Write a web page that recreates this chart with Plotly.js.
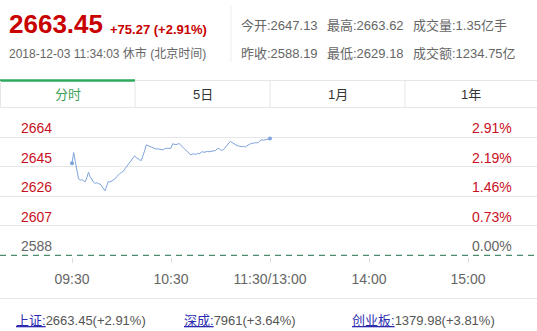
<!DOCTYPE html>
<html>
<head>
<meta charset="utf-8">
<script src="https://cdn.plot.ly/plotly-3.0.1.min.js"></script>
<style>
html,body{margin:0;padding:0;background:#fff;}
#chart{width:537px;height:331px;}
</style>
</head>
<body>
<div id="chart"></div>
<script>
// ---- data ----
var prevClose = 2588.19;
var minutes = [];
for (var i = 0; i <= 120; i++) minutes.push(i);
var prices = [
2647.1,2653.9,2648.0,2642.5,2637.0,2636.2,2636.6,2635.8,2635.2,2637.8,
2641.3,2638.5,2636.6,2635.0,2634.2,2634.6,2634.0,2633.8,2632.4,2631.0,
2629.4,2632.5,2635.3,2635.0,2635.6,2636.4,2637.0,2638.4,2639.6,2640.4,
2641.2,2641.8,2643.4,2644.9,2646.0,2647.1,2648.9,2650.5,2651.8,2650.6,
2649.7,2649.2,2648.8,2651.5,2655.0,2658.8,2658.4,2657.8,2657.4,2657.0,
2656.5,2656.1,2656.3,2655.9,2655.7,2655.6,2656.2,2656.7,2656.5,2656.8,
2656.7,2659.5,2659.2,2658.9,2659.3,2659.6,2658.6,2657.2,2656.4,2655.4,
2654.5,2653.4,2652.4,2652.9,2653.1,2652.6,2653.4,2653.0,2653.8,2654.5,
2654.0,2654.3,2654.6,2654.4,2654.5,2654.8,2655.0,2655.2,2656.2,2656.7,
2655.6,2655.2,2656.0,2657.0,2658.5,2660.0,2660.9,2660.3,2659.6,2659.0,
2658.4,2658.1,2657.9,2657.6,2657.9,2657.4,2658.2,2658.9,2659.5,2659.9,
2659.7,2660.2,2660.1,2660.4,2661.4,2662.0,2661.8,2662.1,2662.5,2662.4,
2662.8];
var gridValues = [2663.62, 2644.76, 2625.90, 2607.05, 2588.19];
var priceLabels = ["2664", "2645", "2626", "2607", "2588"];
var pctLabels = ["2.91%", "2.19%", "1.46%", "0.73%", "0.00%"];
var timeTickVals = [0, 60, 120, 180, 240];
var timeTickText = ["09:30", "10:30", "11:30/13:00", "14:00", "15:00"];
var tabLabels = ["分时", "5日", "1月", "1年"];
var headerRight1 = ["今开:2647.13", "最高:2663.62", "成交量:1.35亿手"];
var headerRight2 = ["昨收:2588.19", "最低:2629.18", "成交额:1234.75亿"];
var indexNames = ["上证:", "深成:", "创业板:"];
var indexValues = ["2663.45(+2.91%)", "7961(+3.64%)", "1379.98(+3.81%)"];

// ---- layout helpers ----
var W = 537, H = 331;
var FONT = "Arial, 'Liberation Sans', 'Noto Sans CJK SC', sans-serif";
function px(x){return x / W;}
function py(y){return 1 - y / H;}
var RED = "#c8101e", GRAY = "#666666", LINE = "#e6e6e6";

var annotations = [];
var shapes = [];
function txt(x, y, text, size, color, anchor, extra){
  var a = {xref:'paper', yref:'paper', x:px(x), y:py(y), text:text, showarrow:false,
    xanchor:anchor||'left', yanchor:'middle', borderpad:0, borderwidth:0,
    font:{family:FONT, size:size, color:color}};
  if (extra) for (var k in extra) a[k] = extra[k];
  annotations.push(a);
}

// header
txt(9, 24, "<b>2663.45</b>", 26, "#c80000");
txt(110, 29, "<b>+75.27 (+2.91%)</b>", 13, "#c80000");
txt(9, 53, "2018-12-03 11:34:03 休市 (北京时间)", 12, GRAY);
var rx = [241, 327, 413];
for (var i = 0; i < 3; i++){
  txt(rx[i], 25, headerRight1[i], 13, GRAY);
  txt(rx[i], 54, headerRight2[i], 13, GRAY);
}
shapes.push({type:'line', xref:'paper', yref:'paper', x0:px(231), x1:px(231), y0:py(5), y1:py(62), line:{color:'#eeeeee', width:1}});

// tabs
shapes.push({type:'line', xref:'paper', yref:'paper', x0:0, x1:1, y0:py(80.5), y1:py(80.5), line:{color:LINE, width:1}});
shapes.push({type:'line', xref:'paper', yref:'paper', x0:0, x1:px(135), y0:py(80.5), y1:py(80.5), line:{color:'#2eaa5c', width:2.5}});
shapes.push({type:'line', xref:'paper', yref:'paper', x0:0, x1:1, y0:py(107.5), y1:py(107.5), line:{color:LINE, width:1}});
[0.5,135,270,405].forEach(function(x){
  shapes.push({type:'line', xref:'paper', yref:'paper', x0:px(x), x1:px(x), y0:py(81), y1:py(107), line:{color:LINE, width:1}});
});
var tabCenters = [67.5, 202.5, 337.5, 471];
for (var i = 0; i < tabLabels.length; i++){
  txt(tabCenters[i], 94.5, tabLabels[i], 13, i === 0 ? "#3a9f58" : "#333333", 'center');
}

// axis labels over gridlines
for (var i = 0; i < gridValues.length; i++){
  var c = (i === gridValues.length - 1) ? GRAY : RED;
  annotations.push({xref:'paper', yref:'y', x:px(20), y:gridValues[i], text:priceLabels[i], showarrow:false,
    xanchor:'left', yanchor:'bottom', yshift:0, borderpad:0, font:{family:FONT, size:14, color:c}});
  annotations.push({xref:'paper', yref:'y', x:px(513), y:gridValues[i], text:pctLabels[i], showarrow:false,
    xanchor:'right', yanchor:'bottom', yshift:0, borderpad:0, font:{family:FONT, size:14, color:c}});
}
// zero (previous close) dashed line
shapes.push({type:'line', xref:'paper', yref:'y', x0:0, x1:1, y0:prevClose, y1:prevClose,
  line:{color:'#1f6e48', width:1, dash:'6px,5px'}});

// footer
shapes.push({type:'line', xref:'paper', yref:'paper', x0:0, x1:1, y0:py(298.5), y1:py(298.5), line:{color:LINE, width:1}});
var fx = [16, 184, 352];
for (var i = 0; i < 3; i++){
  txt(fx[i], 320, '<span style="color:#2b2bb0;text-decoration:underline">' + indexNames[i] + '</span>' + indexValues[i], 13, "#555555");
}

var pxPerUnit = 29.5 / 18.86;
var yMin = prevClose - (257 - 255.3) / pxPerUnit;
var yMax = prevClose + (255.3 - 108) / pxPerUnit;

var traces = [
  {x:minutes, y:prices, type:'scatter', mode:'lines', line:{color:'#7ea4dc', width:1}, hoverinfo:'skip', cliponaxis:false},
  {x:[minutes[0], minutes[minutes.length-1]], y:[prices[0], prices[prices.length-1]], type:'scatter', mode:'markers',
   marker:{color:'#7ea4dc', size:4}, hoverinfo:'skip', cliponaxis:false}
];

var layout = {
  width:W, height:H, margin:{l:0, r:0, t:0, b:0},
  paper_bgcolor:'#fff', plot_bgcolor:'#fff', showlegend:false,
  xaxis:{range:[-72/1.65, (W-72)/1.65], domain:[0,1], tickvals:timeTickVals, ticktext:timeTickText,
    ticks:'outside', ticklen:5, tickcolor:'#dddddd', tickwidth:1, showgrid:false, zeroline:false, showline:false,
    tickfont:{family:FONT, size:14, color:GRAY}, ticklabelstandoff:4, fixedrange:true},
  yaxis:{range:[yMin, yMax], domain:[py(257), py(108)], tickvals:gridValues.slice(0,4), showticklabels:false,
    showgrid:true, gridcolor:LINE, gridwidth:1, zeroline:false, showline:false, ticks:'', fixedrange:true},
  annotations:annotations, shapes:shapes
};
Plotly.newPlot('chart', traces, layout, {staticPlot:true, displayModeBar:false});
</script>
</body>
</html>
